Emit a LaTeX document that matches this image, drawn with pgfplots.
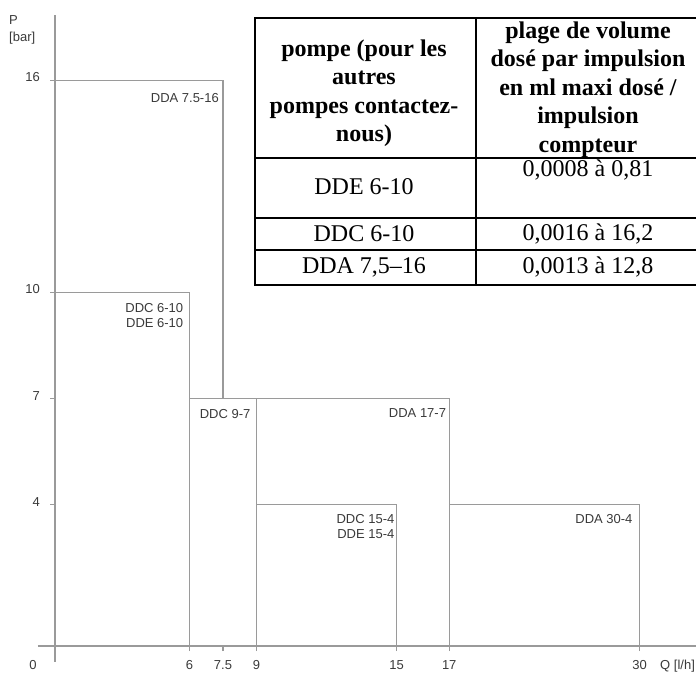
\documentclass[border=0pt]{standalone}
\usepackage{fontspec}
\setmainfont{Liberation Serif}
\newfontfamily\arialf{Liberation Sans}
\usepackage{pgfplots}
\pgfplotsset{compat=1.18}
\definecolor{linegray}{HTML}{9A9A9A}
\definecolor{txtgray}{HTML}{3A3A3A}
\tikzset{
  rect/.style={linegray, line width=1.1pt, mark=none},
  lbl/.style={font=\arialf\fontsize{13}{15}\selectfont, text=txtgray, inner sep=0pt, align=right},
}
\begin{document}
\begin{tikzpicture}
\begin{axis}[
  at={(55pt,26pt)}, anchor=origin,
  x=22.4pt, y=35.35pt,
  xmin=-0.76, xmax=28.8, ymin=-0.45, ymax=17.85,
  axis lines=middle,
  axis line style={-, linegray, line width=1.1pt},
  tick style={linegray, line width=1.1pt},
  tick align=outside,
  major tick length=5pt,
  xtick={6,7.5,9,15.25,17.6,26.1},
  xticklabels={6,7.5,9,15,17,30},
  ytick={4,7,10,16},
  yticklabels={4,7,10,16},
  /pgf/number format/assume math mode=true,
  ticklabel style={font=\arialf\fontsize{13}{15}\selectfont, text=txtgray, inner sep=0pt},
  xticklabel style={anchor=north, yshift=-9.5pt},
  yticklabel style={anchor=east, xshift=-10pt, yshift=3pt},
  clip=false,
]
% DDA 7.5-16
\addplot[rect] coordinates {(-0.22,16) (7.5,16) (7.5,7)};
% DDC / DDE 6-10
\addplot[rect] coordinates {(-0.22,10) (6,10) (6,-0.14)};
% DDC 9-7 and DDA 17-7
\addplot[rect] coordinates {(6,7) (17.6,7) (17.6,-0.14)};
\addplot[rect] coordinates {(9,7) (9,-0.14)};
% DDC / DDE 15-4
\addplot[rect] coordinates {(9,4) (15.25,4) (15.25,-0.14)};
% DDA 30-4
\addplot[rect] coordinates {(17.6,4) (26.1,4) (26.1,-0.14)};

\node[lbl, anchor=north east, xshift=-4pt, yshift=-12.4pt] at (axis cs:7.5,16) {DDA 7.5-16};
\node[lbl, anchor=north east, xshift=-6pt, yshift=-10.4pt] at (axis cs:6,10) {DDC 6-10\\DDE 6-10};
\node[lbl, anchor=north east, xshift=-6pt, yshift=-10.4pt] at (axis cs:9,7) {DDC 9-7};
\node[lbl, anchor=north east, xshift=-3pt, yshift=-9.4pt] at (axis cs:17.6,7) {DDA 17-7};
\node[lbl, anchor=north east, xshift=-2pt, yshift=-9.4pt] at (axis cs:15.25,4) {DDC 15-4\\DDE 15-4};
\node[lbl, anchor=north east, xshift=-7pt, yshift=-9.4pt] at (axis cs:26.1,4) {DDA 30-4};
\end{axis}
% axis titles and origin
\node[font=\arialf\fontsize{13}{17}\selectfont, text=txtgray, inner sep=0pt, anchor=north west, align=left] at (9pt,657pt) {P\\{[}bar{]}};
\node[font=\arialf\fontsize{13}{15}\selectfont, text=txtgray, inner sep=0pt, anchor=base] at (33pt,2pt) {0};
\node[font=\arialf\fontsize{13}{15}\selectfont, text=txtgray, inner sep=0pt, anchor=base west] at (660pt,2pt) {Q [l/h]};
% table
\begin{scope}[line width=1.8pt, line cap=rect]
\foreach \yy in {654,514,454,422,387} {\draw (255pt,\yy pt) -- (705pt,\yy pt);}
\draw (255pt,654pt) -- (255pt,387pt);
\draw (476pt,654pt) -- (476pt,387pt);
\end{scope}
\node[font=\fontsize{24}{28.5}\selectfont\bfseries, align=center, inner sep=0pt] at (364pt,579pt) {pompe (pour les\\autres\\pompes contactez-\\nous)};
\node[font=\fontsize{24}{28.5}\selectfont\bfseries, align=center, inner sep=0pt] at (588pt,582.5pt) {plage de volume\\dosé par impulsion\\en ml maxi dosé /\\impulsion\\compteur};
\node[font=\fontsize{24}{28}\selectfont, inner sep=0pt] at (364pt,485pt) {DDE 6-10};
\node[font=\fontsize{24}{28}\selectfont, inner sep=0pt] at (588pt,502pt) {0,0008 à 0,81};
\node[font=\fontsize{24}{28}\selectfont, inner sep=0pt] at (364pt,438pt) {DDC 6-10};
\node[font=\fontsize{24}{28}\selectfont, inner sep=0pt] at (588pt,438pt) {0,0016 à 16,2};
\node[font=\fontsize{24}{28}\selectfont, inner sep=0pt] at (364pt,405pt) {DDA 7,5–16};
\node[font=\fontsize{24}{28}\selectfont, inner sep=0pt] at (588pt,405pt) {0,0013 à 12,8};
\pgfresetboundingbox
\useasboundingbox (0pt,0pt) rectangle (696pt,672pt);
\end{tikzpicture}
\end{document}
